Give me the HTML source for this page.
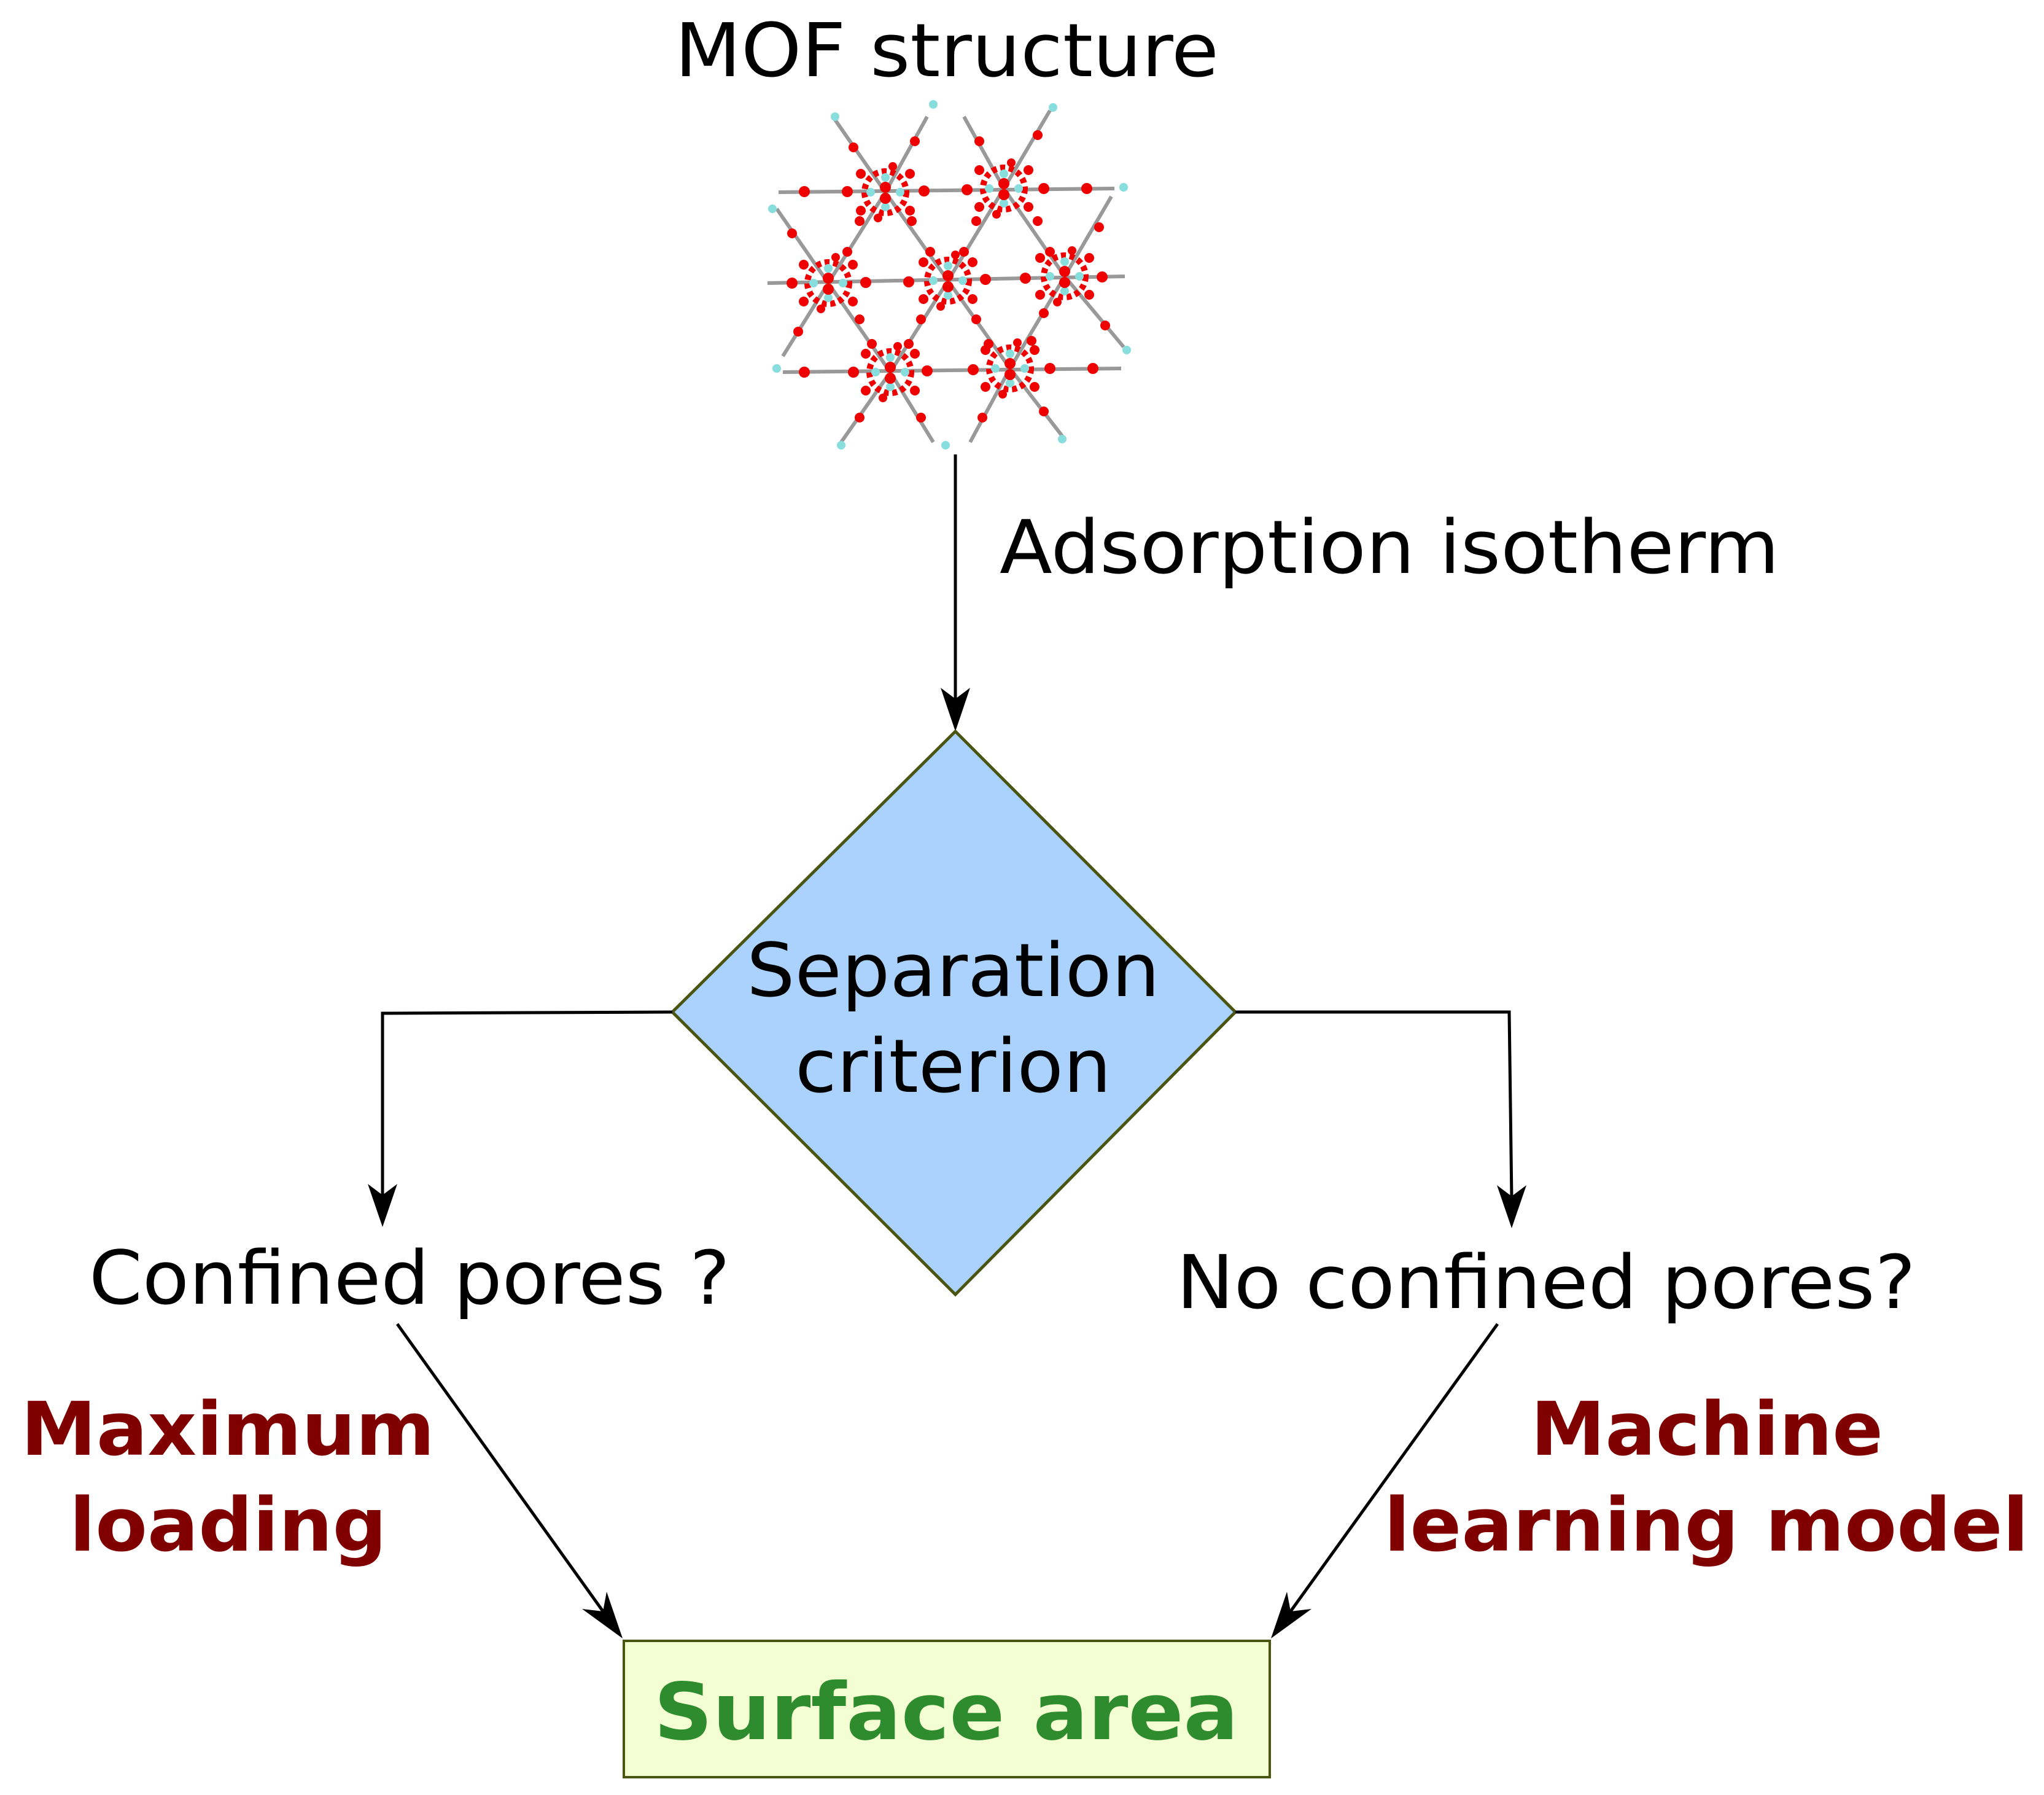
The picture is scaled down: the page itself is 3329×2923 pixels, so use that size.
<!DOCTYPE html>
<html><head><meta charset="utf-8"><style>html,body{margin:0;padding:0;background:#fff}svg{display:block}</style></head>
<body>
<svg width="3329" height="2923" viewBox="0 0 3329 2923" xmlns="http://www.w3.org/2000/svg" font-family="'DejaVu Sans','Liberation Sans',sans-serif">
<defs>
<marker id="ah" markerWidth="10" markerHeight="10" refX="9" refY="5" orient="auto" markerUnits="userSpaceOnUse" viewBox="0 0 10 10">
</marker>
<g id="node">
<circle r="34" fill="none" stroke="#e00" stroke-width="10" stroke-dasharray="8 6"/>
<circle cx="-24" cy="0" r="7" fill="#8dd"/><circle cx="24" cy="0" r="7" fill="#8dd"/>
<circle cx="0" cy="-24" r="7" fill="#8dd"/><circle cx="0" cy="24" r="7" fill="#8dd"/>
<circle cx="-40" cy="-30" r="8" fill="#e00"/><circle cx="40" cy="-30" r="8" fill="#e00"/>
<circle cx="-40" cy="30" r="8" fill="#e00"/><circle cx="40" cy="30" r="8" fill="#e00"/>
<circle cx="0" cy="-8" r="9" fill="#e00"/><circle cx="0" cy="10" r="9" fill="#e00"/>
<circle cx="-12" cy="42" r="7" fill="#e00"/><circle cx="12" cy="-42" r="7" fill="#e00"/>
</g>
</defs>
<!-- MOF -->
<g stroke="#999" stroke-width="6" fill="none">
<line x1="1268" y1="313" x2="1815" y2="307"/>
<line x1="1250" y1="461" x2="1832" y2="450"/>
<line x1="1275" y1="606" x2="1826" y2="600"/>
<line x1="1442" y1="313" x2="1544" y2="457"/><line x1="1544" y1="457" x2="1645" y2="600"/>
<line x1="1635" y1="307" x2="1544" y2="457"/><line x1="1544" y1="457" x2="1450" y2="606"/>
<line x1="1442" y1="313" x2="1349" y2="461"/><line x1="1349" y1="461" x2="1450" y2="606"/>
<line x1="1635" y1="307" x2="1734" y2="450"/><line x1="1734" y1="450" x2="1645" y2="600"/>
<line x1="1442" y1="313" x2="1360" y2="195"/><line x1="1442" y1="313" x2="1510" y2="190"/>
<line x1="1635" y1="307" x2="1570" y2="190"/><line x1="1635" y1="307" x2="1710" y2="180"/>
<line x1="1349" y1="461" x2="1265" y2="340"/><line x1="1349" y1="461" x2="1275" y2="580"/>
<line x1="1734" y1="450" x2="1810" y2="320"/><line x1="1734" y1="450" x2="1830" y2="565"/>
<line x1="1450" y1="606" x2="1370" y2="720"/><line x1="1450" y1="606" x2="1520" y2="720"/>
<line x1="1645" y1="600" x2="1580" y2="720"/><line x1="1645" y1="600" x2="1730" y2="710"/>
</g>
<g fill="#e00">
<circle cx="1310" cy="312" r="9"/><circle cx="1380" cy="312" r="9"/><circle cx="1505" cy="311" r="9"/><circle cx="1575" cy="309" r="9"/><circle cx="1700" cy="307" r="9"/><circle cx="1770" cy="307" r="9"/>
<circle cx="1410" cy="460" r="9"/><circle cx="1480" cy="459" r="9"/><circle cx="1605" cy="455" r="9"/><circle cx="1670" cy="453" r="9"/><circle cx="1290" cy="461" r="9"/><circle cx="1795" cy="451" r="9"/>
<circle cx="1310" cy="606" r="9"/><circle cx="1390" cy="606" r="9"/><circle cx="1510" cy="604" r="9"/><circle cx="1585" cy="602" r="9"/><circle cx="1710" cy="600" r="9"/><circle cx="1780" cy="600" r="9"/>
<circle cx="1485" cy="360" r="8"/><circle cx="1515" cy="410" r="8"/><circle cx="1590" cy="360" r="8"/><circle cx="1570" cy="410" r="8"/>
<circle cx="1400" cy="360" r="8"/><circle cx="1380" cy="410" r="8"/><circle cx="1690" cy="360" r="8"/><circle cx="1710" cy="410" r="8"/>
<circle cx="1400" cy="520" r="8"/><circle cx="1420" cy="560" r="8"/><circle cx="1500" cy="520" r="8"/><circle cx="1480" cy="560" r="8"/>
<circle cx="1590" cy="520" r="8"/><circle cx="1610" cy="560" r="8"/><circle cx="1700" cy="510" r="8"/><circle cx="1680" cy="555" r="8"/>
<circle cx="1390" cy="240" r="8"/><circle cx="1490" cy="230" r="8"/><circle cx="1595" cy="230" r="8"/><circle cx="1690" cy="220" r="8"/>
<circle cx="1290" cy="380" r="8"/><circle cx="1300" cy="540" r="8"/><circle cx="1790" cy="370" r="8"/><circle cx="1800" cy="530" r="8"/>
<circle cx="1400" cy="680" r="8"/><circle cx="1500" cy="680" r="8"/><circle cx="1600" cy="680" r="8"/><circle cx="1700" cy="670" r="8"/>
</g>
<g fill="#8dd"><circle cx="1360" cy="190" r="7"/><circle cx="1520" cy="170" r="7"/><circle cx="1715" cy="175" r="7"/><circle cx="1258" cy="340" r="7"/><circle cx="1830" cy="305" r="7"/><circle cx="1265" cy="600" r="7"/><circle cx="1835" cy="570" r="7"/><circle cx="1370" cy="725" r="7"/><circle cx="1540" cy="725" r="7"/><circle cx="1730" cy="715" r="7"/></g>
<use href="#node" x="1442" y="313"/><use href="#node" x="1635" y="307"/><use href="#node" x="1349" y="461"/><use href="#node" x="1544" y="457"/><use href="#node" x="1734" y="450"/><use href="#node" x="1450" y="606"/><use href="#node" x="1645" y="600"/>

<!-- Texts -->
<text x="1099" y="124" font-size="120" textLength="886" lengthAdjust="spacingAndGlyphs">MOF structure</text>
<text x="1628" y="933" font-size="120" textLength="1270" lengthAdjust="spacingAndGlyphs">Adsorption isotherm</text>

<!-- vertical arrow -->
<line x1="1556" y1="740" x2="1556" y2="1140" stroke="#000" stroke-width="5"/>
<polygon points="1556,1191 1532,1120 1556,1138 1580,1120" fill="#000"/>

<!-- diamond -->
<polygon points="1556,1191 2012,1648 1556,2108 1095,1648" fill="#aad2fc" stroke="#4a5512" stroke-width="5"/>
<text x="1216" y="1622" font-size="120" textLength="673" lengthAdjust="spacingAndGlyphs">Separation</text>
<text x="1295" y="1778" font-size="120" textLength="515" lengthAdjust="spacingAndGlyphs">criterion</text>

<!-- side connectors -->
<polyline points="1095,1648 623,1650 623,1950" fill="none" stroke="#000" stroke-width="5"/>
<polygon points="623,1998 599,1928 623,1946 647,1928" fill="#000"/>
<polyline points="2012,1648 2458,1648 2462,1952" fill="none" stroke="#000" stroke-width="5"/>
<polygon points="2462,2000 2438,1930 2462,1948 2486,1930" fill="#000"/>

<text x="145" y="2123" font-size="120" textLength="1044" lengthAdjust="spacingAndGlyphs">Confined pores ?</text>
<text x="1916" y="2130" font-size="120" textLength="1204" lengthAdjust="spacingAndGlyphs">No confined pores?</text>

<!-- diagonal arrows -->
<line x1="647" y1="2156" x2="985" y2="2628" stroke="#000" stroke-width="5"/>
<polygon points="1014,2668 948,2620 982,2624 988,2592" fill="#000"/>
<line x1="2439" y1="2156" x2="2099" y2="2628" stroke="#000" stroke-width="5"/>
<polygon points="2070,2668 2096,2592 2102,2624 2136,2620" fill="#000"/>

<g fill="#800000" font-weight="bold" font-size="120">
<text x="34" y="2369" textLength="674" lengthAdjust="spacingAndGlyphs">Maximum</text>
<text x="113" y="2525" textLength="517" lengthAdjust="spacingAndGlyphs">loading</text>
<text x="2493" y="2369" textLength="574" lengthAdjust="spacingAndGlyphs">Machine</text>
<text x="2254" y="2525" textLength="1050" lengthAdjust="spacingAndGlyphs">learning model</text>
</g>

<rect x="1016" y="2672" width="1052" height="222" fill="#f3ffd2" stroke="#4a5512" stroke-width="4"/>
<text x="1065" y="2832" font-size="128" font-weight="bold" fill="#2e8b2e" textLength="952" lengthAdjust="spacingAndGlyphs">Surface area</text>
</svg>
</body></html>
